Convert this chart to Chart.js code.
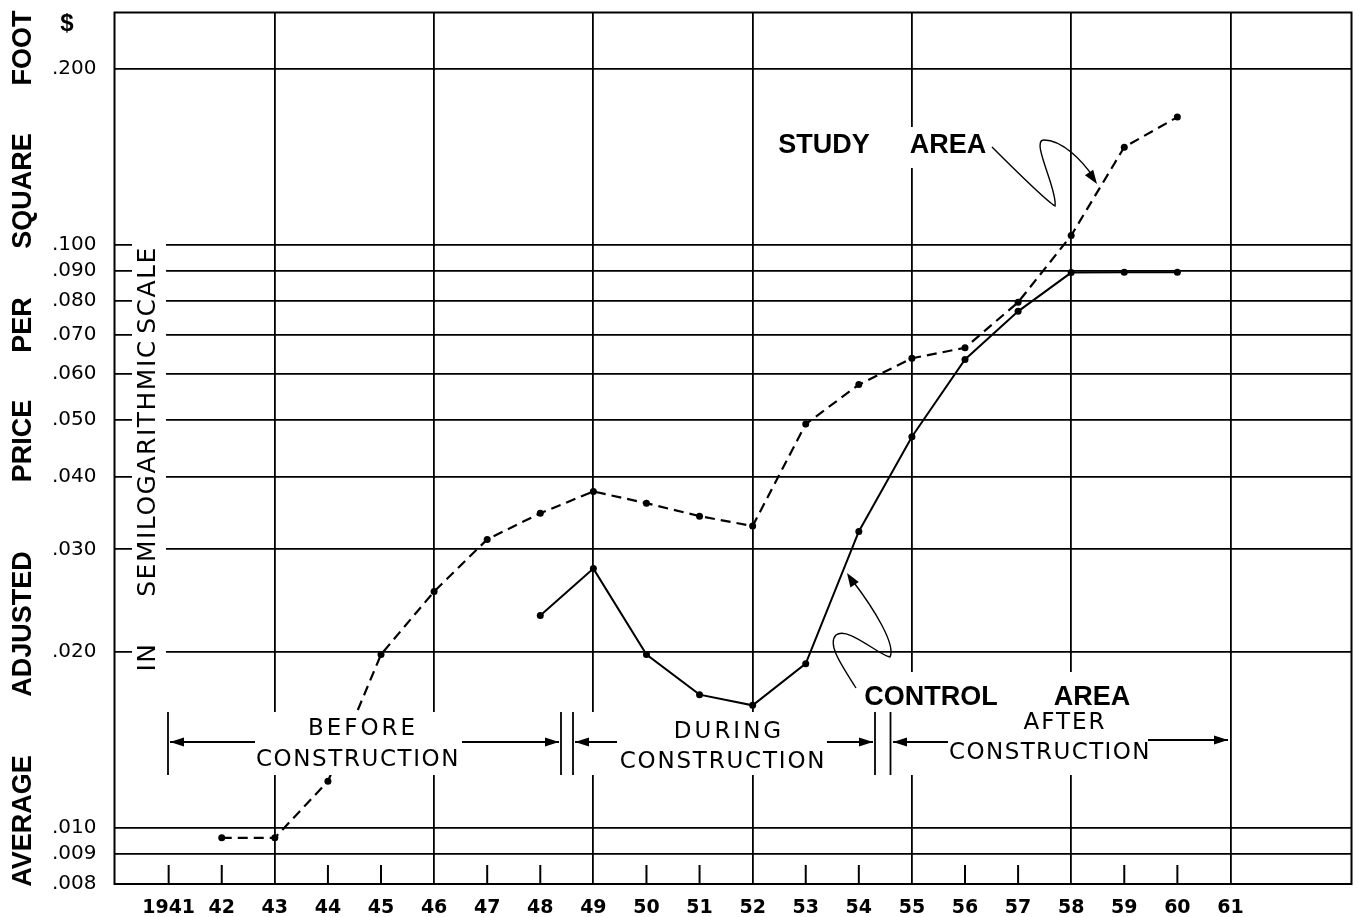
<!DOCTYPE html>
<html>
<head>
<meta charset="utf-8">
<title>Average adjusted price per square foot</title>
<script src="https://cdn.jsdelivr.net/npm/chart.js@4.4.0/dist/chart.umd.min.js"></script>
<style>
  html, body { margin: 0; padding: 0; background: #fff; }
  canvas { display: block; }
</style>
</head>
<body>
<canvas id="priceChart" width="1359" height="917"></canvas>
<script>
// ================= DATA =================
const years = [1941, 1942, 1943, 1944, 1945, 1946, 1947, 1948, 1949, 1950, 1951,
  1952, 1953, 1954, 1955, 1956, 1957, 1958, 1959, 1960, 1961];
const yearLabels = ["1941", "42", "43", "44", "45", "46", "47", "48", "49", "50", "51",
  "52", "53", "54", "55", "56", "57", "58", "59", "60", "61"];
const gridYears = [1943, 1946, 1949, 1952, 1955, 1958, 1961];

const priceTicks = [0.008, 0.009, 0.010, 0.020, 0.030, 0.040, 0.050, 0.060, 0.070,
  0.080, 0.090, 0.100, 0.200];
const priceLabels = [".008", ".009", ".010", ".020", ".030", ".040", ".050", ".060", ".070",
  ".080", ".090", ".100", ".200"];

// study area (dashed)
const studyYears = [1942, 1943, 1944, 1945, 1946, 1947, 1948, 1949, 1950, 1951,
  1952, 1953, 1954, 1955, 1956, 1957, 1958, 1959, 1960];
const studyPrices = [0.0096, 0.0096, 0.0120, 0.0198, 0.0254, 0.0312, 0.0346, 0.0377, 0.0360, 0.0342,
  0.0329, 0.0492, 0.0575, 0.0638, 0.0665, 0.0796, 0.1036, 0.1469, 0.1654];

// control area (solid)
const controlYears = [1948, 1949, 1950, 1951, 1952, 1953, 1954, 1955, 1956, 1957, 1958, 1959, 1960];
const controlPrices = [0.0231, 0.0278, 0.0198, 0.0169, 0.0162, 0.0191, 0.0322, 0.0468, 0.0635,
  0.0768, 0.0895, 0.0896, 0.0896];

// ================= LAYOUT =================
const titleWords = [["FOOT", 48], ["SQUARE", 191], ["PER", 325], ["PRICE", 441], ["ADJUSTED", 624], ["AVERAGE", 821]];
const scaleWords = [["SCALE", 290], ["SEMILOGARITHMIC", 468], ["IN", 657]];
const BOLD = "bold 27px 'Liberation Sans', Arial, sans-serif";
const PLAIN = "23px 'DejaVu Sans', sans-serif";

// ================= HELPERS =================
function arrowHead(ctx, x, y, ang, len = 14, half = 4.5) {
  const c = Math.cos(ang), s = Math.sin(ang);
  ctx.beginPath();
  ctx.moveTo(x, y);
  ctx.lineTo(x - len * c + half * s, y - len * s - half * c);
  ctx.lineTo(x - len * c - half * s, y - len * s + half * c);
  ctx.closePath();
  ctx.fill();
}

function spanArrow(ctx, x1, x2, y) {
  ctx.beginPath();
  ctx.moveTo(x1, y);
  ctx.lineTo(x2, y);
  ctx.stroke();
  arrowHead(ctx, x2, y, x2 > x1 ? 0 : Math.PI);
}

function label(ctx, text, x, y, font, spacing = "0px") {
  ctx.font = font;
  ctx.letterSpacing = spacing;
  ctx.textAlign = "center";
  ctx.textBaseline = "middle";
  ctx.fillText(text, x, y);
  ctx.letterSpacing = "0px";
}

// ================= DECORATION PLUGIN =================
const decorations = {
  id: "decorations",
  afterDatasetsDraw(chart) {
    const ctx = chart.ctx;
    const area = chart.chartArea;
    const xs = chart.scales.x;
    ctx.save();
    ctx.fillStyle = "#fff";
    ctx.strokeStyle = "#000";

    // white gaps behind the texts
    ctx.fillRect(132, 236, 34, 434);
    ctx.fillRect(160, 712, 1062, 63);
    ctx.fillRect(858, 672, 364, 40);
    ctx.fillRect(775, 127, 215, 41);

    ctx.fillStyle = "#000";

    // short year ticks on the bottom edge
    ctx.lineWidth = 2;
    years.forEach(yr => {
      if (gridYears.includes(yr)) return;
      const px = xs.getPixelForValue(yr);
      ctx.beginPath();
      ctx.moveTo(px, area.bottom);
      ctx.lineTo(px, area.bottom - 19);
      ctx.stroke();
    });

    // construction periods
    ctx.lineWidth = 1.8;
    [168, 561, 573, 875, 890.5].forEach(bx => {
      ctx.beginPath();
      ctx.moveTo(bx, 712);
      ctx.lineTo(bx, 775);
      ctx.stroke();
    });
    spanArrow(ctx, 255, 170, 742);
    spanArrow(ctx, 462, 559, 742);
    spanArrow(ctx, 617, 575, 742);
    spanArrow(ctx, 827, 873, 742);
    spanArrow(ctx, 948, 893, 742);
    spanArrow(ctx, 1148, 1228, 740);

    label(ctx, "BEFORE", 363, 729, PLAIN, "3px");
    label(ctx, "CONSTRUCTION", 358, 760, PLAIN, "1.6px");
    label(ctx, "DURING", 729, 732, PLAIN, "3px");
    label(ctx, "CONSTRUCTION", 723, 762, PLAIN, "1.8px");
    label(ctx, "AFTER", 1065, 723, PLAIN, "2px");
    label(ctx, "CONSTRUCTION", 1050, 753, PLAIN, "1.4px");

    // series names
    label(ctx, "STUDY", 824, 146, BOLD);
    label(ctx, "AREA", 948, 146, BOLD);
    label(ctx, "CONTROL", 931, 698, BOLD);
    label(ctx, "AREA", 1092, 698, BOLD);

    // curly pointers
    ctx.lineWidth = 1.4;
    ctx.beginPath();
    ctx.moveTo(992, 147);
    ctx.bezierCurveTo(1015, 170, 1045, 200, 1055, 206);
    ctx.bezierCurveTo(1058, 190, 1030, 140, 1044, 140);
    ctx.bezierCurveTo(1062, 140, 1082, 160, 1094, 178);
    ctx.stroke();
    arrowHead(ctx, 1097, 184, Math.atan2(184 - 168, 1097 - 1086), 14, 5);

    ctx.beginPath();
    ctx.moveTo(856, 688);
    ctx.bezierCurveTo(845, 670, 826, 645, 836, 635);
    ctx.bezierCurveTo(848, 626, 878, 655, 890, 657);
    ctx.bezierCurveTo(896, 645, 875, 610, 852, 580);
    ctx.stroke();
    arrowHead(ctx, 847, 573, Math.atan2(573 - 590, 847 - 858), 14, 5);

    // semilog note
    ctx.save();
    ctx.translate(148, 0);
    ctx.rotate(-Math.PI / 2);
    scaleWords.forEach(([w, cy]) => label(ctx, w, -cy, 0, "25px 'DejaVu Sans', sans-serif", "1.5px"));
    ctx.restore();

    // axis title, spread along the side
    ctx.save();
    ctx.translate(24, 0);
    ctx.rotate(-Math.PI / 2);
    titleWords.forEach(([w, cy]) => label(ctx, w, -cy, 0, BOLD));
    ctx.restore();

    label(ctx, "$", 67, 24, "bold 24px 'Liberation Sans', Arial, sans-serif");

    // frame
    ctx.lineWidth = 2;
    ctx.strokeRect(area.left, area.top, area.right - area.left, area.bottom - area.top);
    ctx.restore();
  }
};

function noEdgePadding(s) {
  s.paddingTop = 0;
  s.paddingBottom = 0;
  s.paddingLeft = 0;
  s.paddingRight = 0;
}

// ================= CHART =================
Chart.defaults.font.family = "'DejaVu Sans', sans-serif";
Chart.defaults.color = "#000";

new Chart(document.getElementById("priceChart"), {
  type: "line",
  data: {
    datasets: [
      {
        label: "Study area",
        data: studyYears.map((x, i) => ({ x, y: studyPrices[i] })),
        borderColor: "#000",
        borderWidth: 2.2,
        borderDash: [10, 6],
        pointRadius: 3.5,
        pointBorderWidth: 0,
        pointBackgroundColor: "#000",
        tension: 0
      },
      {
        label: "Control area",
        data: controlYears.map((x, i) => ({ x, y: controlPrices[i] })),
        borderColor: "#000",
        borderWidth: 2,
        pointRadius: 3.5,
        pointBorderWidth: 0,
        pointBackgroundColor: "#000",
        tension: 0
      }
    ]
  },
  options: {
    responsive: false,
    animation: false,
    layout: { padding: { top: 12.5, right: 7.5, left: 52, bottom: 0 } },
    plugins: { legend: { display: false }, tooltip: { enabled: false } },
    scales: {
      x: {
        type: "linear",
        min: 1939.98,
        max: 1963.28,
        afterBuildTicks: s => { s.ticks = years.map(v => ({ value: v })); },
        afterFit: s => { s.height = 33; noEdgePadding(s); },
        border: { display: false },
        grid: {
          color: c => (c.tick && gridYears.includes(c.tick.value)) ? "#000" : "rgba(0,0,0,0)",
          lineWidth: 1.8,
          drawTicks: false
        },
        ticks: {
          autoSkip: false,
          maxRotation: 0,
          padding: 13,
          font: { size: 19, weight: "bold" },
          callback: v => yearLabels[years.indexOf(v)]
        }
      },
      y: {
        type: "logarithmic",
        min: 0.008,
        max: 0.25,
        afterBuildTicks: s => { s.ticks = priceTicks.map(v => ({ value: v })); },
        afterFit: s => { s.width = 62.5; noEdgePadding(s); },
        border: { display: false },
        grid: { color: "#000", lineWidth: 1.8, drawTicks: false },
        ticks: {
          autoSkip: false,
          crossAlign: "far",
          padding: 8,
          font: { size: 20 },
          callback: v => priceLabels[priceTicks.indexOf(v)]
        }
      }
    }
  },
  plugins: [decorations]
});
</script>
</body>
</html>
